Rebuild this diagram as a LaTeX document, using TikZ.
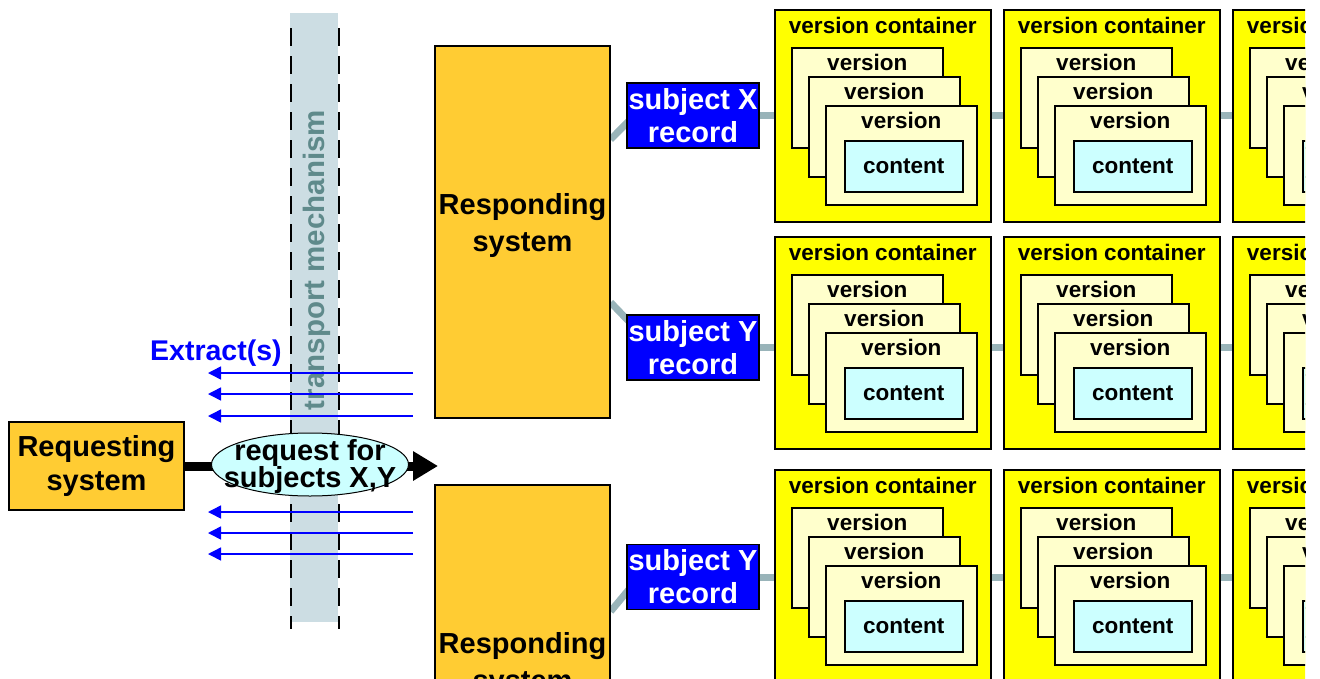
\documentclass[tikz,border=0pt]{standalone}
\usepackage{fontspec}
\setmainfont{Liberation Sans}
\usetikzlibrary{positioning,shapes.geometric,arrows.meta,backgrounds,calc}
\definecolor{sysorange}{RGB}{255,204,51}
\definecolor{contyellow}{RGB}{255,255,0}
\definecolor{verscream}{RGB}{255,255,204}
\definecolor{contcyan}{RGB}{204,255,255}
\definecolor{recblue}{RGB}{0,0,255}
\definecolor{linkgray}{RGB}{153,180,185}
\definecolor{bandgray}{RGB}{204,221,227}
\definecolor{bandtext}{RGB}{95,138,139}
\newcommand\sysfont{\fontsize{29}{37}\selectfont\bfseries}
\newcommand\reqfont{\fontsize{29}{34}\selectfont\bfseries}
\newcommand\recfont{\fontsize{29}{33}\selectfont\bfseries}
\newcommand\ellfont{\fontsize{29}{27}\selectfont\bfseries\lineskiplimit=-100pt}
\newcommand\verfont{\fontsize{22.5}{26}\selectfont\bfseries}
\tikzset{
     sysbox/.style = {draw, line width=1.2pt, fill=sysorange, minimum width=175pt,
                      align=center, inner sep=0pt, font=\sysfont},
     resptext/.style = {align=center, inner sep=0pt, font=\sysfont, yshift=7pt},
     recbox/.style = {draw, line width=1.5pt, fill=recblue, text=white, minimum width=132pt,
                      minimum height=65pt, align=center, inner sep=0pt, font=\recfont},
     contbox/.style = {draw, line width=1.5pt, fill=contyellow, minimum width=216pt,
                      minimum height=212pt, anchor=north west, inner sep=0pt,
                      label={[anchor=north, inner sep=0pt, yshift=-8pt, font=\verfont]north:version container}},
     verbox/.style = {draw, line width=1.5pt, fill=verscream, minimum width=151pt,
                      minimum height=100pt, inner sep=0pt,
                      label={[anchor=north, inner sep=0pt, yshift=-7pt, font=\verfont]north:version}},
     contentbox/.style = {draw, line width=1.5pt, fill=contcyan, minimum width=118pt,
                      minimum height=51pt, inner sep=0pt, font=\verfont},
     link/.style = {linkgray, line width=7pt},
     extract/.style = {blue, line width=1.5pt, -{Triangle[length=13pt,width=13pt]}},
     reqarrow/.style = {black, line width=9pt, -{Triangle[length=25pt,width=28pt]}},
     reqellipse/.style = {ellipse, draw, line width=1pt, fill=contcyan, minimum width=197pt,
                      minimum height=63pt, inner sep=0pt},
     elltext/.style = {align=center, inner sep=0pt, font=\ellfont, yshift=-1.5pt},
     bandline/.style = {black, line width=2pt, dash pattern=on 18pt off 10pt},
     bandlbl/.style = {text=bandtext, inner sep=0pt, font=\fontsize{29.5}{32}\selectfont\bfseries},
     extlbl/.style = {text=blue, inner sep=0pt, font=\fontsize{28.5}{32}\selectfont\bfseries},
    }

\begin{document}
\begin{tikzpicture}[x=1pt, y=-1pt]
    \useasboundingbox (0,0) rectangle (1320,678);
    \clip (0,0) rectangle (1305,678);

    % transport mechanism
    \fill[bandgray] (290,13) rectangle (338,622);
    \draw[bandline] (291,28) -- (291,629);
    \draw[bandline] (339,28) -- (339,629);
    \node[bandlbl, rotate=90] (transport) at (317,260) {transport mechanism};

    % systems
    \node[sysbox, minimum height=88pt, font=\reqfont] (reqsys) at (96.5,466) {Requesting\\system};
    \node[sysbox, minimum height=372pt,
          label={[resptext]center:Responding\\system}] (resp1) at (522.5,232) {};
    \node[sysbox, minimum height=372pt,
          label={[resptext]center:Responding\\system}] (resp2) at (522.5,671) {};

    % subject records
    \node[recbox] (recX) at (693,115.5) {subject X\\record};
    \node[recbox] (recY1) at (693,347.5) {subject Y\\record};
    \node[recbox] (recY2) at (693,577) {subject Y\\record};

    % version containers
    \foreach \r/\ty in {1/9,2/236,3/469}
      \foreach \c/\tx in {1/774,2/1003,3/1232} {
        \node[contbox] (c\r\c) at (\tx,\ty) {};
        \node[verbox, below right=38pt and 17pt of c\r\c.north west] (c\r\c-v1) {};
        \node[verbox, below right=67pt and 34pt of c\r\c.north west] (c\r\c-v2) {};
        \node[verbox, minimum height=99pt, below right=96pt and 51pt of c\r\c.north west] (c\r\c-v3) {};
        \node[contentbox, below right=131pt and 70pt of c\r\c.north west] (c\r\c-ct) {content};
      }

    \begin{scope}[on background layer]
        \draw[link] ($(resp1.north east)+(0,94)$) -- ($(recX.west)+(8,0)$);
        \draw[link] ($(resp1.north east)+(0,257)$) -- ($(recY1.north west)+(13,18)$);
        \draw[link] ($(resp2.north east)+(0,127)$) -- ($(recY2.west)+(13,0)$);
        \draw[link] (recX.east) -- (recX.east -| c13.west);
        \draw[link] (recY1.east) -- (recY1.east -| c23.west);
        \draw[link] (recY2.east) -- (recY2.east -| c33.west);
    \end{scope}

    % extracts coming back
    \node[extlbl, anchor=base west] (extract) at (150,360) {Extract(s)};
    \foreach \i/\ya in {1/373,2/394,3/416,4/512,5/533,6/554} {
        \coordinate (xs\i) at (413,\ya);
        \coordinate (xe\i) at (208,\ya);
        \draw[extract] (xs\i) -- (xe\i);
    }

    % request
    \coordinate (reqtip) at (438,466);
    \draw[reqarrow] (reqsys.east) -- (reqtip);
    \node[reqellipse, label={[elltext]center:request for\\subjects X,Y}] (request) at (310,464.5) {};
\end{tikzpicture}
\end{document}
